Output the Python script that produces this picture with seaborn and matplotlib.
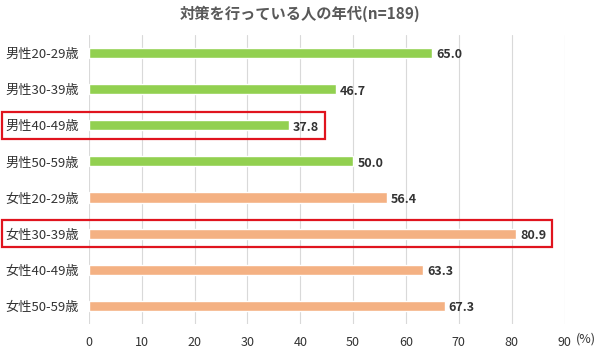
import matplotlib
matplotlib.use('Agg')
import matplotlib.pyplot as plt
import seaborn as sns
import pandas as pd
from matplotlib.patches import Rectangle

# data
categories = ['男性20-29歳', '男性30-39歳', '男性40-49歳', '男性50-59歳',
              '女性20-29歳', '女性30-39歳', '女性40-49歳', '女性50-59歳']
values = [65.0, 46.7, 37.8, 50.0, 56.4, 80.9, 63.3, 67.3]
groups = ['男性'] * 4 + ['女性'] * 4
highlighted = ['男性40-49歳', '女性30-39歳']
x_ticks = [0, 10, 20, 30, 40, 50, 60, 70, 80, 90]

df = pd.DataFrame({'category': categories, 'value': values, 'group': groups})

sns.set_theme(style='white')
plt.rcParams['font.family'] = ['Noto Sans CJK JP', 'DejaVu Sans']

fig = plt.figure(figsize=(6, 3.54), dpi=100)
ax = fig.add_axes([0.148, 0.085, 0.793, 0.816])

sns.barplot(data=df, x='value', y='category', hue='group', order=categories,
            palette={'男性': '#92D050', '女性': '#F4B183'}, width=0.28,
            saturation=1, dodge=False, legend=False, ax=ax)

ax.set_xlim(0, 90)
ax.set_xticks(x_ticks)
ax.xaxis.grid(True, color='#D9D9D9', linewidth=0.8)
ax.set_axisbelow(True)
for s in ax.spines.values():
    s.set_visible(False)
ax.tick_params(axis='both', length=0, colors='#333333')
ax.tick_params(axis='x', pad=9, labelsize=9)
ax.tick_params(axis='y', pad=7, labelsize=9.5)
ax.set_xlabel('')
ax.set_ylabel('')

# value labels
for i, v in enumerate(values):
    ax.text(v + 0.8, i + 0.05, f'{v:.1f}', va='center', ha='left',
            fontsize=9, fontweight='bold', color='#333333')

# unit
ax.text(92.2, -0.052, '(%)', transform=ax.get_xaxis_transform(), ha='left',
        va='center', fontsize=9, color='#333333')

# highlight boxes
for cat in highlighted:
    i = categories.index(cat)
    v = values[i]
    ax.add_patch(Rectangle((-16.5, i - 0.38), v + 6.8 + 16.5, 0.76,
                           fill=False, edgecolor='#E0141E', linewidth=1.6,
                           clip_on=False, zorder=5))

fig.suptitle('対策を行っている人の年代(n=189)', y=0.985, fontsize=11,
             color='#595959', fontweight='bold')

fig.savefig('out.png', dpi=100)
